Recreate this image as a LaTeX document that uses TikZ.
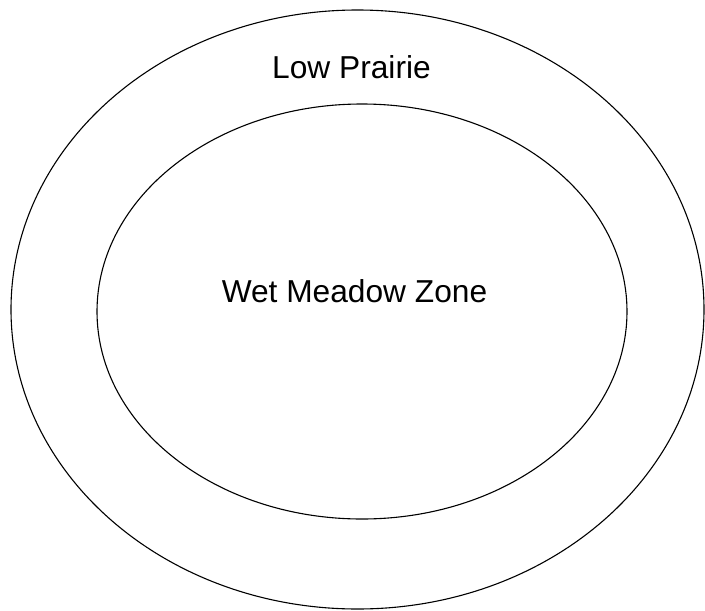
\documentclass[tikz,border=0pt]{standalone}
\usepackage{fontspec}
\setmainfont{Liberation Sans}
\usetikzlibrary{shapes.geometric}

\begin{document}
\begin{tikzpicture}[x=1pt, y=-1pt, font=\fontsize{31.7}{38}\selectfont]
  \tikzstyle{zone}=[ellipse,draw=black,line width=1.1pt,inner sep=0pt]
  \tikzstyle{zonelabel}=[anchor=base,inner sep=0pt]
  \useasboundingbox (0,0) rectangle (705,611);
  \node[zone,minimum width=693pt,minimum height=599pt] (prairie) at (357.5,309.5) {};
  \node[zone,minimum width=530pt,minimum height=415pt] (meadow) at (362,311.5) {};
  \node[zonelabel] (prairielbl) at (351.5,78) {Low Prairie};
  \node[zonelabel] (meadowlbl) at (354.5,302) {Wet Meadow Zone};
\end{tikzpicture}
\end{document}
